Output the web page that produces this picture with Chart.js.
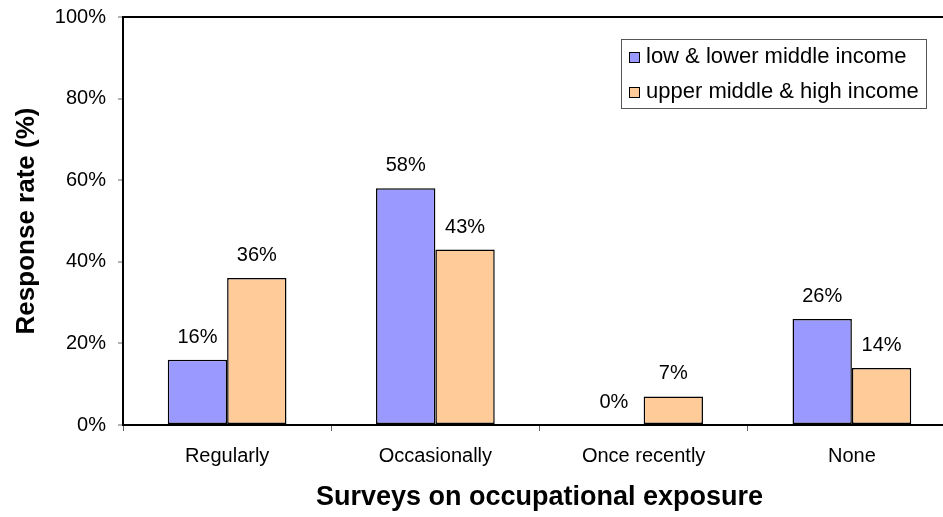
<!DOCTYPE html>
<html>
<head>
<meta charset="utf-8">
<script src="https://cdn.jsdelivr.net/npm/chart.js@4/dist/chart.umd.min.js"></script>
<style>
  html, body { margin: 0; padding: 0; background: #fff; overflow: hidden; }
  #wrap { width: 956px; height: 517px; }
</style>
</head>
<body>
<div id="wrap"><canvas id="myChart"></canvas></div>
<script>
// data
const categories = ['Regularly', 'Occasionally', 'Once recently', 'None'];
const lowIncome = [16, 58, 0, 26];
const highIncome = [36, 43, 7, 14];
const seriesNames = ['low & lower middle income', 'upper middle & high income'];
const yTicks = [0, 20, 40, 60, 80, 100];

const FONT = '"Liberation Sans", Arial, sans-serif';

// value labels above each bar
const barLabels = {
  id: 'barLabels',
  afterDatasetsDraw(chart) {
    const ctx = chart.ctx;
    ctx.save();
    ctx.font = '20px ' + FONT;
    ctx.fillStyle = '#000';
    ctx.textAlign = 'center';
    ctx.textBaseline = 'alphabetic';
    chart.data.datasets.forEach((ds, i) => {
      chart.getDatasetMeta(i).data.forEach((bar, j) => {
        ctx.fillText(ds.data[j] + '%', bar.x, bar.y - 17);
      });
    });
    ctx.restore();
  }
};

// boxed legend in the top right corner
const boxLegend = {
  id: 'boxLegend',
  afterDraw(chart) {
    const ctx = chart.ctx;
    ctx.save();
    ctx.strokeStyle = '#555';
    ctx.lineWidth = 1;
    ctx.strokeRect(621.5, 39.5, 305, 69);
    ctx.font = '22px ' + FONT;
    ctx.textBaseline = 'middle';
    chart.data.datasets.forEach((ds, i) => {
      const y = 57 + i * 35;
      ctx.fillStyle = ds.backgroundColor;
      ctx.fillRect(629, y - 5, 11, 11);
      ctx.strokeStyle = '#000';
      ctx.strokeRect(629.5, y - 4.5, 10, 10);
      ctx.fillStyle = '#000';
      ctx.fillText(ds.label, 646, y);
    });
    ctx.restore();
  }
};

const config = {
  type: 'bar',
  data: {
    labels: categories,
    datasets: [
      {
        label: seriesNames[0],
        data: lowIncome,
        backgroundColor: '#9999FF',
        borderColor: '#000',
        borderWidth: 1.5,
        borderSkipped: false,
        categoryPercentage: 0.57,
        barPercentage: 1
      },
      {
        label: seriesNames[1],
        data: highIncome,
        backgroundColor: '#FFCC99',
        borderColor: '#000',
        borderWidth: 1.5,
        borderSkipped: false,
        categoryPercentage: 0.57,
        barPercentage: 1
      }
    ]
  },
  options: {
    responsive: true,
    maintainAspectRatio: false,
    animation: false,
    layout: { padding: { top: 17, left: 0, right: 0, bottom: 0 } },
    plugins: {
      legend: { display: false },
      tooltip: { enabled: false }
    },
    scales: {
      x: {
        offset: true,
        grid: {
          offset: true,
          drawOnChartArea: false,
          tickLength: 6,
          tickColor: '#666'
        },
        border: { color: '#000', width: 2 },
        ticks: {
          color: '#000',
          font: { family: FONT, size: 20 },
          padding: 13,
          maxRotation: 0
        },
        title: {
          display: true,
          text: 'Surveys on occupational exposure',
          color: '#000',
          font: { family: FONT, size: 27, weight: 'bold' },
          padding: { top: 0, bottom: 3 }
        },
        afterFit: (scale) => {
          scale.height = 92;
          scale.paddingLeft = 0;
          scale.paddingRight = 0;
        }
      },
      y: {
        min: 0,
        max: 100,
        afterBuildTicks: (scale) => { scale.ticks = yTicks.map(v => ({ value: v })); },
        grid: {
          color: (c) => (c.tick && c.tick.value === 100 ? '#000' : 'rgba(0,0,0,0)'),
          lineWidth: 2,
          tickColor: '#666',
          tickWidth: 1,
          tickLength: 5
        },
        border: { color: '#000', width: 2 },
        ticks: {
          color: '#000',
          font: { family: FONT, size: 20 },
          padding: 12,
          callback: (v) => v + '%'
        },
        title: {
          display: true,
          text: 'Response rate (%)',
          color: '#000',
          font: { family: FONT, size: 26, weight: 'bold' },
          padding: { top: 11, bottom: 0 }
        },
        afterFit: (scale) => {
          scale.width = 123;
          scale.paddingTop = 0;
          scale.paddingBottom = 0;
        }
      }
    }
  },
  plugins: [barLabels, boxLegend]
};

new Chart(document.getElementById('myChart').getContext('2d'), config);
</script>
</body>
</html>
